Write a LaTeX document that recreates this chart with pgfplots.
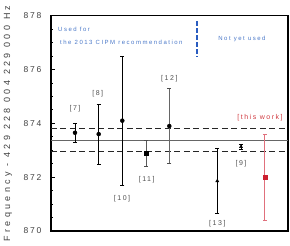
\documentclass[border=0pt]{standalone}
\usepackage{fontspec}
\setmainfont{Liberation Sans}[LetterSpace=22]
\usepackage{pgfplots}
\pgfplotsset{compat=1.18}
\definecolor{txtblue}{HTML}{4A78C8}
\definecolor{lineblue}{HTML}{2A5CC0}
\definecolor{redtxt}{HTML}{D03A40}
\definecolor{redbar}{HTML}{E0707C}
\definecolor{redsq}{HTML}{CC1F2F}
\definecolor{lbl}{HTML}{505050}
\begin{document}
\begin{tikzpicture}
\begin{axis}[
  name=ax,
  scale only axis,
  width=237pt, height=215.3pt,
  xmin=51, xmax=288, ymin=870, ymax=878,
  axis line style={black, line width=1.4pt},
  xtick=\empty,
  ytick={870,872,874,876,878},
  minor ytick={870.5,871,871.5,872.5,873,873.5,874.5,875,875.5,876.5,877,877.5},
  ytick pos=left,
  tick align=inside,
  major tick length=4pt, minor tick length=2.5pt,
  tick style={black, line width=0.8pt},
  /pgf/number format/assume math mode=true,
  yticklabel style={font=\fontsize{8.5}{10}\selectfont, text=black!75, xshift=-6pt},
  ylabel={Frequency - 429 228 004 229 000 Hz},
  ylabel style={at={(axis description cs:-0.182,0.5)}, anchor=center, font=\fontsize{9}{10}\selectfont\addfontfeature{LetterSpace=37}, text=black!75},
  clip=false,
  error bars/error bar style={line width=0.8pt},
]
% reference lines
\addplot[black!85, dashed, dash pattern=on 6pt off 3.5pt, line width=0.9pt] coordinates {(51,873.81) (288,873.81)};
\addplot[black!60, line width=0.7pt] coordinates {(51,873.38) (288,873.38)};
\addplot[black!85, dashed, dash pattern=on 6pt off 3.5pt, line width=0.9pt] coordinates {(51,872.95) (288,872.95)};
% blue divider
\addplot[lineblue, line width=2pt, dash pattern=on 4.5pt off 2.5pt] coordinates {(196.7,877.8) (196.7,876.45)};
% data with error bars
\addplot[black, only marks, mark=*, mark size=2pt,
  error bars/.cd, y dir=both, y explicit,
  error mark options={rotate=90, mark size=2pt, black, line width=0.8pt}]
  coordinates {(75,873.65) +- (0,0.35) (98.7,873.6) +- (0,1.12) (122.3,874.1) +- (0,2.4)};
\addplot[black!70, only marks, mark=*, mark size=2pt, mark options={black},
  error bars/.cd, y dir=both, y explicit,
  error bar style={black!60},
  error mark options={rotate=90, mark size=2pt, black!70, line width=0.8pt}]
  coordinates {(169.3,873.9) +- (0,1.4)};
\addplot[black, only marks, mark=square*, mark size=1.8pt,
  error bars/.cd, y dir=both, y explicit,
  error bar style={black!65},
  error mark options={rotate=90, mark size=2pt, black!70, line width=0.8pt}]
  coordinates {(146,872.89) +- (0,0.48)};
\addplot[black, only marks, mark=triangle*, mark size=1.8pt,
  error bars/.cd, y dir=both, y explicit,
  error mark options={rotate=90, mark size=2pt, black, line width=0.8pt}]
  coordinates {(217.3,871.86) +- (0,1.2) (241,873.13) +- (0,0.1)};
\addplot[redsq, only marks, mark=square*, mark size=2.2pt,
  error bars/.cd, y dir=both, y explicit,
  error bar style={redbar, line width=1pt},
  error mark options={rotate=90, mark size=2pt, redbar, line width=0.8pt}]
  coordinates {(265,872.0) +- (0,1.6)};
% labels
\begin{scope}[every node/.style={font=\fontsize{7}{8}\selectfont, text=lbl}]
\node at (axis cs:75,874.54) {[7]};
\node at (axis cs:97.7,875.1) {[8]};
\node at (axis cs:122,871.2) {[10]};
\node at (axis cs:146.7,871.9) {[11]};
\node at (axis cs:169.3,875.65) {[12]};
\node at (axis cs:217.3,870.28) {[13]};
\node at (axis cs:241,872.5) {[9]};
\node[text=redtxt] at (axis cs:260,874.2) {[this work]};
\end{scope}
\begin{scope}[every node/.style={font=\fontsize{6}{7}\selectfont\addfontfeature{LetterSpace=25}, text=txtblue, inner sep=0pt}]
\node[anchor=west] at (axis cs:58,877.48) {Used for};
\node[anchor=west] at (axis cs:60,877.02) {the 2013 CIPM recommendation};
\node at (axis cs:242,877.13) {Not yet used};
\end{scope}
\end{axis}
\pgfresetboundingbox
\path ([xshift=-51pt,yshift=-15pt]ax.south west) rectangle ([xshift=2pt,yshift=15.7pt]ax.north east);
\end{tikzpicture}
\end{document}
